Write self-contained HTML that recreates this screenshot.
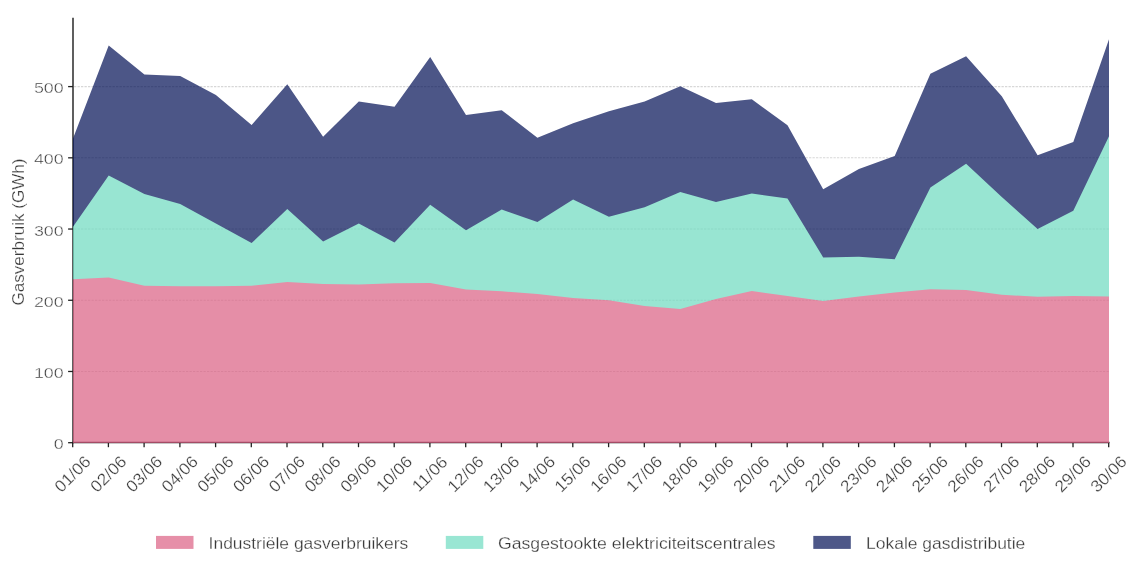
<!DOCTYPE html>
<html lang="nl"><head><meta charset="utf-8"><title>Gasverbruik</title>
<style>html,body{margin:0;padding:0;background:#fff}body{width:1135px;height:563px;overflow:hidden}</style></head>
<body>
<svg width="1135" height="563" viewBox="0 0 1135 563" style="display:block">
<rect width="1135" height="563" fill="#fff"/>
<style>text{font-family:"Liberation Sans", sans-serif;font-size:17.3px;fill:#383838;stroke:#fff;stroke-width:0.25px}</style>
<line x1="74" x2="1109.4" y1="371.48" y2="371.48" stroke="#d7d7d7" stroke-width="1.1" stroke-dasharray="2.3 1.2"/>
<line x1="74" x2="1109.4" y1="300.26" y2="300.26" stroke="#d7d7d7" stroke-width="1.1" stroke-dasharray="2.3 1.2"/>
<line x1="74" x2="1109.4" y1="229.04" y2="229.04" stroke="#d7d7d7" stroke-width="1.1" stroke-dasharray="2.3 1.2"/>
<line x1="74" x2="1109.4" y1="157.82" y2="157.82" stroke="#d7d7d7" stroke-width="1.1" stroke-dasharray="2.3 1.2"/>
<line x1="74" x2="1109.4" y1="86.6" y2="86.6" stroke="#d7d7d7" stroke-width="1.1" stroke-dasharray="2.3 1.2"/>
<line x1="73" x2="73" y1="17.75" y2="443.15" stroke="#222222" stroke-width="1.45"/>
<line x1="72.3" x2="1109.45" y1="442.45" y2="442.45" stroke="#222222" stroke-width="1.45"/>
<line x1="68.1" x2="73" y1="442.7" y2="442.7" stroke="#222222" stroke-width="1.3"/>
<text transform="translate(63.60,449.30) scale(1.15,1)" text-anchor="end" style="font-size:15.5px;stroke-width:0.4px">0</text>
<line x1="68.1" x2="73" y1="371.48" y2="371.48" stroke="#222222" stroke-width="1.3"/>
<text transform="translate(63.60,378.08) scale(1.15,1)" text-anchor="end" style="font-size:15.5px;stroke-width:0.4px">100</text>
<line x1="68.1" x2="73" y1="300.26" y2="300.26" stroke="#222222" stroke-width="1.3"/>
<text transform="translate(63.60,306.86) scale(1.15,1)" text-anchor="end" style="font-size:15.5px;stroke-width:0.4px">200</text>
<line x1="68.1" x2="73" y1="229.04" y2="229.04" stroke="#222222" stroke-width="1.3"/>
<text transform="translate(63.60,235.64) scale(1.15,1)" text-anchor="end" style="font-size:15.5px;stroke-width:0.4px">300</text>
<line x1="68.1" x2="73" y1="157.82" y2="157.82" stroke="#222222" stroke-width="1.3"/>
<text transform="translate(63.60,164.42) scale(1.15,1)" text-anchor="end" style="font-size:15.5px;stroke-width:0.4px">400</text>
<line x1="68.1" x2="73" y1="86.6" y2="86.6" stroke="#222222" stroke-width="1.3"/>
<text transform="translate(63.60,93.20) scale(1.15,1)" text-anchor="end" style="font-size:15.5px;stroke-width:0.4px">500</text>
<line x1="72.7" x2="72.7" y1="442.6" y2="447.2" stroke="#222222" stroke-width="1.3"/>
<text transform="translate(72.30,473.80) rotate(-45) scale(1.052,1)" y="5.9" text-anchor="middle" style="font-size:16.45px">01/06</text>
<line x1="108.4" x2="108.4" y1="442.6" y2="447.2" stroke="#222222" stroke-width="1.3"/>
<text transform="translate(108.02,473.80) rotate(-45) scale(1.052,1)" y="5.9" text-anchor="middle" style="font-size:16.45px">02/06</text>
<line x1="144.1" x2="144.1" y1="442.6" y2="447.2" stroke="#222222" stroke-width="1.3"/>
<text transform="translate(143.75,473.80) rotate(-45) scale(1.052,1)" y="5.9" text-anchor="middle" style="font-size:16.45px">03/06</text>
<line x1="179.9" x2="179.9" y1="442.6" y2="447.2" stroke="#222222" stroke-width="1.3"/>
<text transform="translate(179.47,473.80) rotate(-45) scale(1.052,1)" y="5.9" text-anchor="middle" style="font-size:16.45px">04/06</text>
<line x1="215.6" x2="215.6" y1="442.6" y2="447.2" stroke="#222222" stroke-width="1.3"/>
<text transform="translate(215.20,473.80) rotate(-45) scale(1.052,1)" y="5.9" text-anchor="middle" style="font-size:16.45px">05/06</text>
<line x1="251.3" x2="251.3" y1="442.6" y2="447.2" stroke="#222222" stroke-width="1.3"/>
<text transform="translate(250.92,473.80) rotate(-45) scale(1.052,1)" y="5.9" text-anchor="middle" style="font-size:16.45px">06/06</text>
<line x1="287.0" x2="287.0" y1="442.6" y2="447.2" stroke="#222222" stroke-width="1.3"/>
<text transform="translate(286.64,473.80) rotate(-45) scale(1.052,1)" y="5.9" text-anchor="middle" style="font-size:16.45px">07/06</text>
<line x1="322.8" x2="322.8" y1="442.6" y2="447.2" stroke="#222222" stroke-width="1.3"/>
<text transform="translate(322.37,473.80) rotate(-45) scale(1.052,1)" y="5.9" text-anchor="middle" style="font-size:16.45px">08/06</text>
<line x1="358.5" x2="358.5" y1="442.6" y2="447.2" stroke="#222222" stroke-width="1.3"/>
<text transform="translate(358.09,473.80) rotate(-45) scale(1.052,1)" y="5.9" text-anchor="middle" style="font-size:16.45px">09/06</text>
<line x1="394.2" x2="394.2" y1="442.6" y2="447.2" stroke="#222222" stroke-width="1.3"/>
<text transform="translate(393.82,473.80) rotate(-45) scale(1.052,1)" y="5.9" text-anchor="middle" style="font-size:16.45px">10/06</text>
<line x1="429.9" x2="429.9" y1="442.6" y2="447.2" stroke="#222222" stroke-width="1.3"/>
<text transform="translate(429.54,473.80) rotate(-45) scale(1.052,1)" y="5.9" text-anchor="middle" style="font-size:16.45px">11/06</text>
<line x1="465.7" x2="465.7" y1="442.6" y2="447.2" stroke="#222222" stroke-width="1.3"/>
<text transform="translate(465.27,473.80) rotate(-45) scale(1.052,1)" y="5.9" text-anchor="middle" style="font-size:16.45px">12/06</text>
<line x1="501.4" x2="501.4" y1="442.6" y2="447.2" stroke="#222222" stroke-width="1.3"/>
<text transform="translate(500.99,473.80) rotate(-45) scale(1.052,1)" y="5.9" text-anchor="middle" style="font-size:16.45px">13/06</text>
<line x1="537.1" x2="537.1" y1="442.6" y2="447.2" stroke="#222222" stroke-width="1.3"/>
<text transform="translate(536.71,473.80) rotate(-45) scale(1.052,1)" y="5.9" text-anchor="middle" style="font-size:16.45px">14/06</text>
<line x1="572.8" x2="572.8" y1="442.6" y2="447.2" stroke="#222222" stroke-width="1.3"/>
<text transform="translate(572.44,473.80) rotate(-45) scale(1.052,1)" y="5.9" text-anchor="middle" style="font-size:16.45px">15/06</text>
<line x1="608.6" x2="608.6" y1="442.6" y2="447.2" stroke="#222222" stroke-width="1.3"/>
<text transform="translate(608.16,473.80) rotate(-45) scale(1.052,1)" y="5.9" text-anchor="middle" style="font-size:16.45px">16/06</text>
<line x1="644.3" x2="644.3" y1="442.6" y2="447.2" stroke="#222222" stroke-width="1.3"/>
<text transform="translate(643.89,473.80) rotate(-45) scale(1.052,1)" y="5.9" text-anchor="middle" style="font-size:16.45px">17/06</text>
<line x1="680.0" x2="680.0" y1="442.6" y2="447.2" stroke="#222222" stroke-width="1.3"/>
<text transform="translate(679.61,473.80) rotate(-45) scale(1.052,1)" y="5.9" text-anchor="middle" style="font-size:16.45px">18/06</text>
<line x1="715.7" x2="715.7" y1="442.6" y2="447.2" stroke="#222222" stroke-width="1.3"/>
<text transform="translate(715.33,473.80) rotate(-45) scale(1.052,1)" y="5.9" text-anchor="middle" style="font-size:16.45px">19/06</text>
<line x1="751.5" x2="751.5" y1="442.6" y2="447.2" stroke="#222222" stroke-width="1.3"/>
<text transform="translate(751.06,473.80) rotate(-45) scale(1.052,1)" y="5.9" text-anchor="middle" style="font-size:16.45px">20/06</text>
<line x1="787.2" x2="787.2" y1="442.6" y2="447.2" stroke="#222222" stroke-width="1.3"/>
<text transform="translate(786.78,473.80) rotate(-45) scale(1.052,1)" y="5.9" text-anchor="middle" style="font-size:16.45px">21/06</text>
<line x1="822.9" x2="822.9" y1="442.6" y2="447.2" stroke="#222222" stroke-width="1.3"/>
<text transform="translate(822.51,473.80) rotate(-45) scale(1.052,1)" y="5.9" text-anchor="middle" style="font-size:16.45px">22/06</text>
<line x1="858.6" x2="858.6" y1="442.6" y2="447.2" stroke="#222222" stroke-width="1.3"/>
<text transform="translate(858.23,473.80) rotate(-45) scale(1.052,1)" y="5.9" text-anchor="middle" style="font-size:16.45px">23/06</text>
<line x1="894.4" x2="894.4" y1="442.6" y2="447.2" stroke="#222222" stroke-width="1.3"/>
<text transform="translate(893.96,473.80) rotate(-45) scale(1.052,1)" y="5.9" text-anchor="middle" style="font-size:16.45px">24/06</text>
<line x1="930.1" x2="930.1" y1="442.6" y2="447.2" stroke="#222222" stroke-width="1.3"/>
<text transform="translate(929.68,473.80) rotate(-45) scale(1.052,1)" y="5.9" text-anchor="middle" style="font-size:16.45px">25/06</text>
<line x1="965.8" x2="965.8" y1="442.6" y2="447.2" stroke="#222222" stroke-width="1.3"/>
<text transform="translate(965.40,473.80) rotate(-45) scale(1.052,1)" y="5.9" text-anchor="middle" style="font-size:16.45px">26/06</text>
<line x1="1001.5" x2="1001.5" y1="442.6" y2="447.2" stroke="#222222" stroke-width="1.3"/>
<text transform="translate(1001.13,473.80) rotate(-45) scale(1.052,1)" y="5.9" text-anchor="middle" style="font-size:16.45px">27/06</text>
<line x1="1037.3" x2="1037.3" y1="442.6" y2="447.2" stroke="#222222" stroke-width="1.3"/>
<text transform="translate(1036.85,473.80) rotate(-45) scale(1.052,1)" y="5.9" text-anchor="middle" style="font-size:16.45px">28/06</text>
<line x1="1073.0" x2="1073.0" y1="442.6" y2="447.2" stroke="#222222" stroke-width="1.3"/>
<text transform="translate(1072.58,473.80) rotate(-45) scale(1.052,1)" y="5.9" text-anchor="middle" style="font-size:16.45px">29/06</text>
<line x1="1108.7" x2="1108.7" y1="442.6" y2="447.2" stroke="#222222" stroke-width="1.3"/>
<text transform="translate(1108.30,473.80) rotate(-45) scale(1.052,1)" y="5.9" text-anchor="middle" style="font-size:16.45px">30/06</text>
<g opacity="0.7">
<polygon points="73.0,138.4 108.7,45.6 144.4,74.6 180.2,75.9 215.9,95.1 251.6,125.1 287.3,84.2 323.1,136.7 358.8,101.4 394.5,106.7 430.2,57.0 466.0,115.0 501.7,110.2 537.4,137.7 573.1,123.2 608.9,111.2 644.6,101.6 680.3,86.2 716.0,103.1 751.8,99.3 787.5,125.3 823.2,189.3 858.9,169.0 894.7,156.1 930.4,73.8 966.1,56.2 1001.8,96.2 1037.6,155.2 1073.3,142.0 1109.0,39.2 1109.0,139.3 1073.3,213.7 1037.6,232.0 1001.8,200.1 966.1,166.8 930.4,190.4 894.7,262.2 858.9,259.7 823.2,260.4 787.5,201.4 751.8,196.6 716.0,204.9 680.3,194.9 644.6,210.2 608.9,219.8 573.1,202.5 537.4,225.0 501.7,212.6 466.0,233.3 430.2,207.8 394.5,245.6 358.8,226.5 323.1,244.4 287.3,212.1 251.6,246.1 215.9,226.6 180.2,207.0 144.4,197.0 108.7,178.5 73.0,229.7" fill="#010F55"/>
<polygon points="73.0,226.7 108.7,175.5 144.4,194.0 180.2,204.0 215.9,223.6 251.6,243.1 287.3,209.1 323.1,241.4 358.8,223.5 394.5,242.6 430.2,204.8 466.0,230.3 501.7,209.6 537.4,222.0 573.1,199.5 608.9,216.8 644.6,207.2 680.3,191.9 716.0,201.9 751.8,193.6 787.5,198.4 823.2,257.4 858.9,256.7 894.7,259.2 930.4,187.4 966.1,163.8 1001.8,197.1 1037.6,229.0 1073.3,210.7 1109.0,136.3 1109.0,299.5 1073.3,299.1 1037.6,299.8 1001.8,297.7 966.1,293.0 930.4,292.3 894.7,295.5 858.9,299.5 823.2,304.1 787.5,299.0 751.8,294.0 716.0,302.0 680.3,311.9 644.6,308.9 608.9,303.3 573.1,300.9 537.4,297.1 501.7,294.3 466.0,292.5 430.2,286.0 394.5,286.2 358.8,287.5 323.1,287.0 287.3,285.0 251.6,288.8 215.9,289.3 180.2,289.3 144.4,288.8 108.7,280.4 73.0,282.2" fill="#6DDBC0"/>
<polygon points="73.0,279.2 108.7,277.4 144.4,285.8 180.2,286.3 215.9,286.3 251.6,285.8 287.3,282.0 323.1,284.0 358.8,284.5 394.5,283.2 430.2,283.0 466.0,289.5 501.7,291.3 537.4,294.1 573.1,297.9 608.9,300.3 644.6,305.9 680.3,308.9 716.0,299.0 751.8,291.0 787.5,296.0 823.2,301.1 858.9,296.5 894.7,292.5 930.4,289.3 966.1,290.0 1001.8,294.7 1037.6,296.8 1073.3,296.1 1109.0,296.5 1109.0,443.0 73.0,443.0" fill="#DB5F83"/>
</g>
<text transform="translate(23.50,232.00) rotate(-90) scale(1.052,1)" text-anchor="middle" style="font-size:16.25px">Gasverbruik (GWh)</text>
<rect x="156" y="535.9" width="37.5" height="13" fill="#E68FA8"/>
<text transform="translate(208.60,549.20) scale(1.052,1)" style="font-size:16.59px">Industriële gasverbruikers</text>
<rect x="445.8" y="535.9" width="37.5" height="13" fill="#99E6D3"/>
<text transform="translate(498.00,549.20) scale(1.052,1)" style="font-size:16.78px">Gasgestookte elektriciteitscentrales</text>
<rect x="813.3" y="535.9" width="37.5" height="13" fill="#4D5788"/>
<text transform="translate(866.00,549.20) scale(1.052,1)" style="font-size:16.63px">Lokale gasdistributie</text>
</svg>
</body></html>
